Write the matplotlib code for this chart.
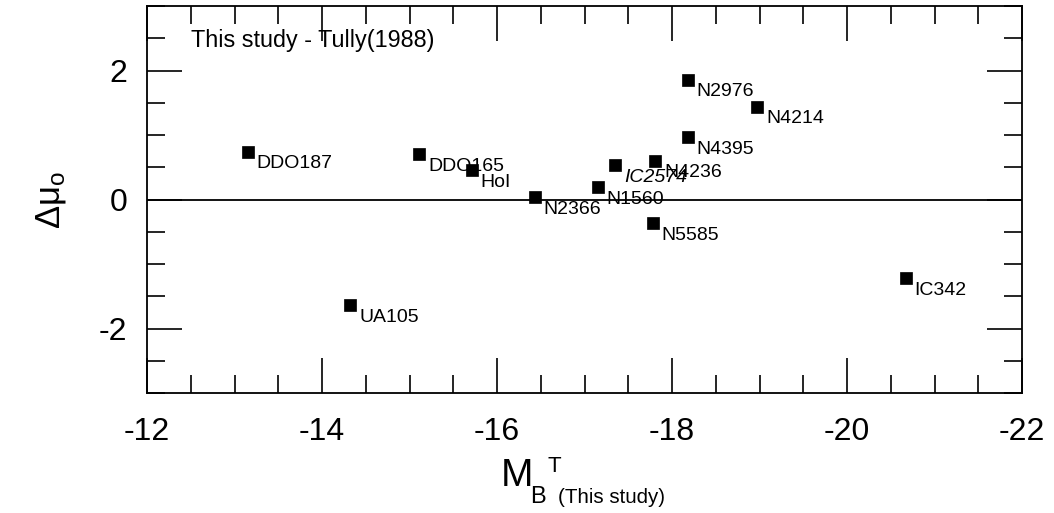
import matplotlib
matplotlib.use("Agg")
import matplotlib.pyplot as plt
from matplotlib.ticker import MultipleLocator, FuncFormatter

plt.rcParams["font.family"] = ["Liberation Sans", "DejaVu Sans"]
plt.rcParams["mathtext.default"] = "regular"

# absolute magnitude (this study) and distance-modulus difference
galaxies = ["DDO187", "DDO165", "HoI", "N2366", "N1560", "IC2574", "N4236",
            "N5585", "N2976", "N4395", "N4214", "IC342", "UA105"]
mag_b = [-13.15, -15.11, -15.71, -16.43, -17.15, -17.35, -17.81,
         -17.78, -18.18, -18.18, -18.97, -20.67, -14.32]
delta_mu = [0.74, 0.70, 0.45, 0.04, 0.19, 0.53, 0.60,
            -0.37, 1.86, 0.97, 1.44, -1.22, -1.64]
italic_names = ["IC2574"]

W, H = 1054, 513
fig = plt.figure(figsize=(W / 100, H / 100), dpi=100)
ax = fig.add_axes([147 / W, 1 - 393 / H, 875 / W, 387 / H])

ax.axhline(0, color="black", lw=1.3, zorder=1)
ax.plot(mag_b, delta_mu, "s", color="black", ms=8.2, mew=0.5, zorder=3)

for name, x, y in zip(galaxies, mag_b, delta_mu):
    ax.annotate(name, (x, y), xytext=(6.5, -12), textcoords="offset points",
                fontsize=14, va="baseline", ha="left",
                style="italic" if name in italic_names else "normal")

ax.text(0.05, 1 - (46.7 - 6) / 387, "This study - Tully(1988)",
        transform=ax.transAxes, fontsize=16.8, va="baseline", ha="left")

ax.set_xlim(-12, -22)
ax.set_ylim(-3, 3)
ax.xaxis.set_major_locator(MultipleLocator(2))
ax.xaxis.set_minor_locator(MultipleLocator(0.5))
ax.yaxis.set_major_locator(MultipleLocator(2))
ax.yaxis.set_minor_locator(MultipleLocator(0.5))
ax.tick_params(which="both", direction="in", top=True, right=True, width=1.2)
ax.tick_params(which="major", length=25)
ax.tick_params(which="minor", length=13)
ax.tick_params(axis="x", which="major", labelsize=23, pad=17)
ax.tick_params(axis="y", which="major", labelsize=23, pad=14)
ax.xaxis.set_major_formatter(FuncFormatter(lambda v, p: f"{v:.0f}"))
ax.yaxis.set_major_formatter(FuncFormatter(lambda v, p: f"{v:.0f}"))
for sp in ax.spines.values():
    sp.set_linewidth(1.3)

# axis titles built from pieces so the sub/superscripts sit where wanted
def px(x, y):
    return x / W, 1 - y / H

fig.text(*px(501, 486), "M", fontsize=28, va="baseline", ha="left")
fig.text(*px(530, 503), "B", fontsize=17, va="baseline", ha="left")
fig.text(*px(547, 472), "T", fontsize=16, va="baseline", ha="left")
fig.text(*px(558, 503), "(This study)", fontsize=14.8, va="baseline", ha="left")

fig.text(*px(34, 200), r"$\Delta\mu_o$", fontsize=25, rotation=90,
         va="center", ha="left")

fig.savefig("out.png", dpi=100)
